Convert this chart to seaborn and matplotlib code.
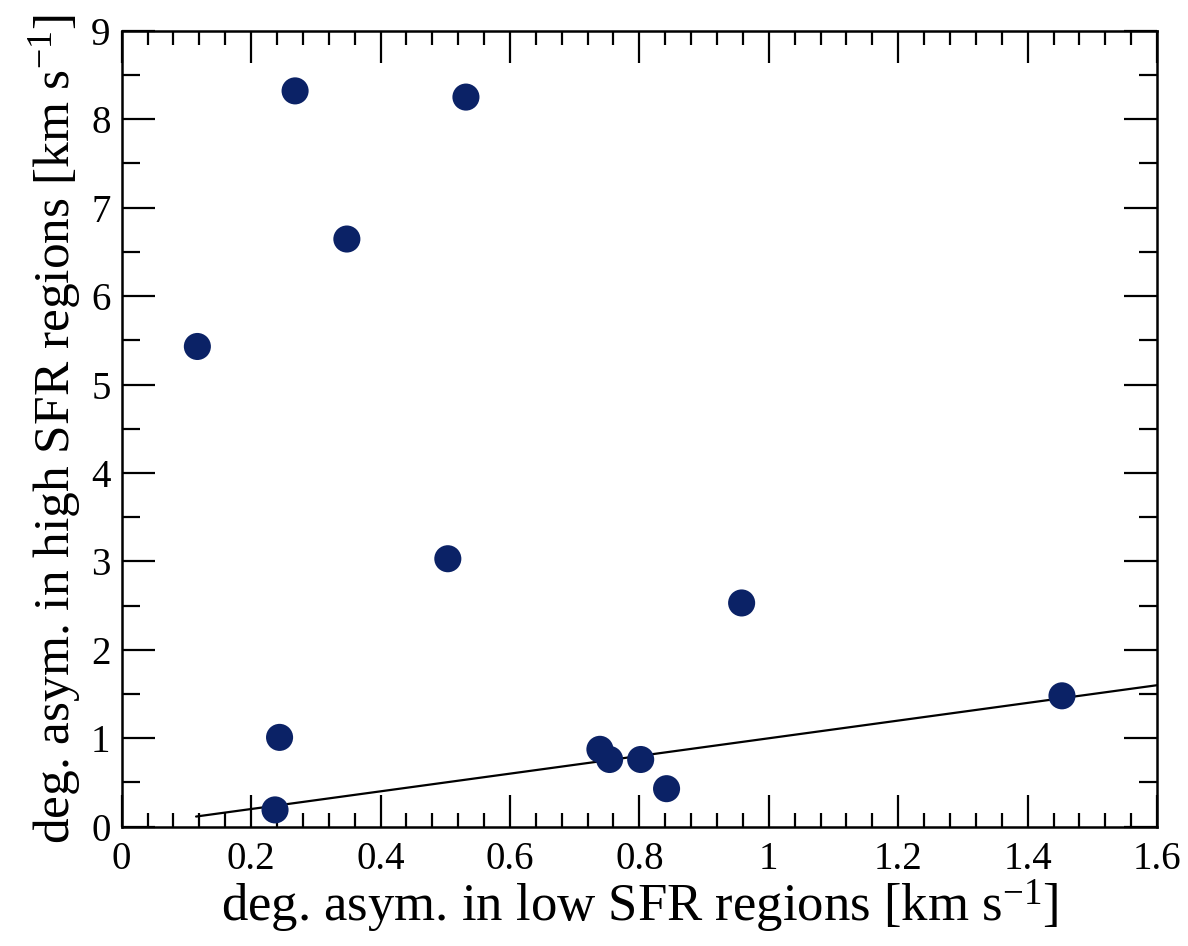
import matplotlib
matplotlib.use("Agg")
import matplotlib.pyplot as plt
from matplotlib.ticker import MultipleLocator
import seaborn as sns
import pandas as pd

# Degree of asymmetry measured in low- and high-SFR regions (km/s)
low_sfr_asym = [0.117, 0.268, 0.532, 0.348, 0.504, 0.958, 0.244, 0.237,
                0.739, 0.754, 0.802, 0.842, 1.453]
high_sfr_asym = [5.43, 8.32, 8.25, 6.645, 3.03, 2.53, 1.01, 0.19,
                 0.875, 0.76, 0.76, 0.43, 1.48]

# One-to-one reference line
ref_x = [0.115, 1.6]
ref_y = [0.115, 1.6]

x_ticks = [0, 0.2, 0.4, 0.6, 0.8, 1.0, 1.2, 1.4, 1.6]
x_tick_labels = ["0", "0.2", "0.4", "0.6", "0.8", "1", "1.2", "1.4", "1.6"]
y_ticks = [0, 1, 2, 3, 4, 5, 6, 7, 8, 9]

sns.set_theme(style="ticks")
plt.rcParams["font.family"] = ["Liberation Serif", "DejaVu Serif"]
plt.rcParams["mathtext.fontset"] = "custom"
plt.rcParams["mathtext.rm"] = "Liberation Serif"
plt.rcParams["mathtext.it"] = "Liberation Serif:italic"
plt.rcParams["mathtext.default"] = "rm"
plt.rcParams["text.color"] = "black"
plt.rcParams["axes.labelcolor"] = "black"

df = pd.DataFrame({"low": low_sfr_asym, "high": high_sfr_asym})
ref = pd.DataFrame({"x": ref_x, "y": ref_y})

fig = plt.figure(figsize=(11.88, 9.46), dpi=100)
ax = fig.add_axes([0.1024, 0.1261, 0.8716, 0.8414])

sns.lineplot(data=ref, x="x", y="y", ax=ax, color="black", linewidth=1.6,
             zorder=2)
sns.scatterplot(data=df, x="low", y="high", ax=ax, color="#0b2266",
                s=380, edgecolor="none", zorder=3)

ax.set_xlim(0, 1.6)
ax.set_ylim(0, 9)
ax.set_xticks(x_ticks)
ax.set_xticklabels(x_tick_labels)
ax.set_yticks(y_ticks)
ax.xaxis.set_minor_locator(MultipleLocator(0.04))
ax.yaxis.set_minor_locator(MultipleLocator(0.5))

ax.tick_params(axis="both", which="both", direction="in", top=True,
               right=True, width=1.6, colors="black", labelcolor="black")
ax.tick_params(axis="both", which="major", labelsize=28)
ax.tick_params(axis="x", which="major", length=23, pad=10)
ax.tick_params(axis="y", which="major", length=24, pad=8)
ax.tick_params(axis="x", which="minor", length=10)
ax.tick_params(axis="y", which="minor", length=13)

for sp in ax.spines.values():
    sp.set_linewidth(1.8)
    sp.set_color("black")

ax.set_xlabel(r"deg. asym. in low SFR regions [km s$^{-1}$]", fontsize=38,
              labelpad=0)
ax.set_ylabel(r"deg. asym. in high SFR regions [km s$^{-1}$]", fontsize=37,
              labelpad=6)

fig.savefig("out.png", dpi=100)
